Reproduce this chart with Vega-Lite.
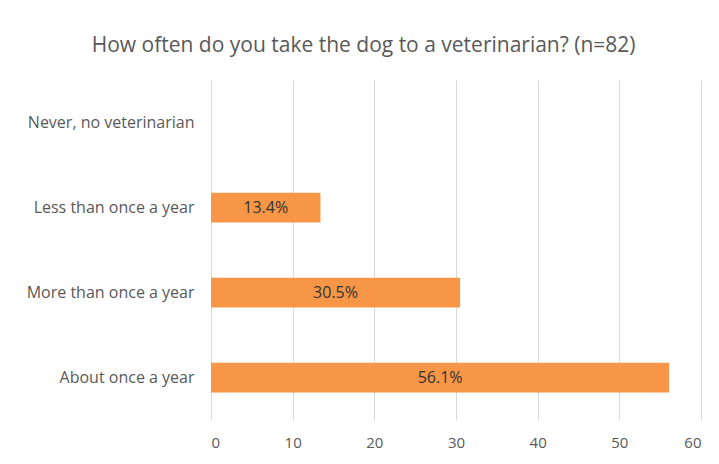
{
  "$schema": "https://vega.github.io/schema/vega-lite/v6.json",
  "autosize": "none",
  "width": 490,
  "height": 340,
  "padding": {"left": 211, "top": 80, "right": 18, "bottom": 44},
  "background": "white",
  "title": {
    "text": "How often do you take the dog to a veterinarian? (n=82)",
    "font": "Open Sans",
    "fontSize": 21,
    "fontWeight": "normal",
    "color": "#595959",
    "anchor": "middle",
    "frame": "bounds",
    "offset": 24
  },
  "data": {
    "values": [
      {"answer": "Never, no veterinarian", "value": 0},
      {"answer": "Less than once a year", "value": 13.4},
      {"answer": "More than once a year", "value": 30.5},
      {"answer": "About once a year", "value": 56.1}
    ]
  },
  "encoding": {
    "y": {
      "field": "answer",
      "type": "nominal",
      "sort": ["Never, no veterinarian", "Less than once a year", "More than once a year", "About once a year"],
      "scale": {"paddingInner": 0.65, "paddingOuter": 0.325},
      "axis": {"title": null, "domain": false, "ticks": false, "labelPadding": 17, "labelFont": "Open Sans", "labelFontSize": 16, "labelColor": "#595959", "grid": false, "labelLimit": 250}
    }
  },
  "layer": [
    {
      "mark": {"type": "bar", "color": "#F79646"},
      "encoding": {
        "x": {
          "field": "value",
          "type": "quantitative",
          "scale": {"domain": [0, 60], "nice": false},
          "axis": {"title": null, "values": [0, 10, 20, 30, 40, 50, 60], "domain": false, "ticks": false, "labelPadding": 15, "labelFont": "Open Sans", "labelFontSize": 15, "labelColor": "#595959", "gridColor": "#d9d9d9", "gridWidth": 1}
        }
      }
    },
    {
      "transform": [
        {"filter": "datum.value > 0"},
        {"calculate": "datum.value / 2", "as": "mid"},
        {"calculate": "format(datum.value, '.1f') + '%'", "as": "label"}
      ],
      "mark": {"type": "text", "font": "Open Sans", "fontSize": 16, "color": "#333333", "align": "center", "baseline": "middle"},
      "encoding": {
        "x": {"field": "mid", "type": "quantitative"},
        "text": {"field": "label", "type": "nominal"}
      }
    }
  ],
  "config": {"view": {"stroke": null}}
}
